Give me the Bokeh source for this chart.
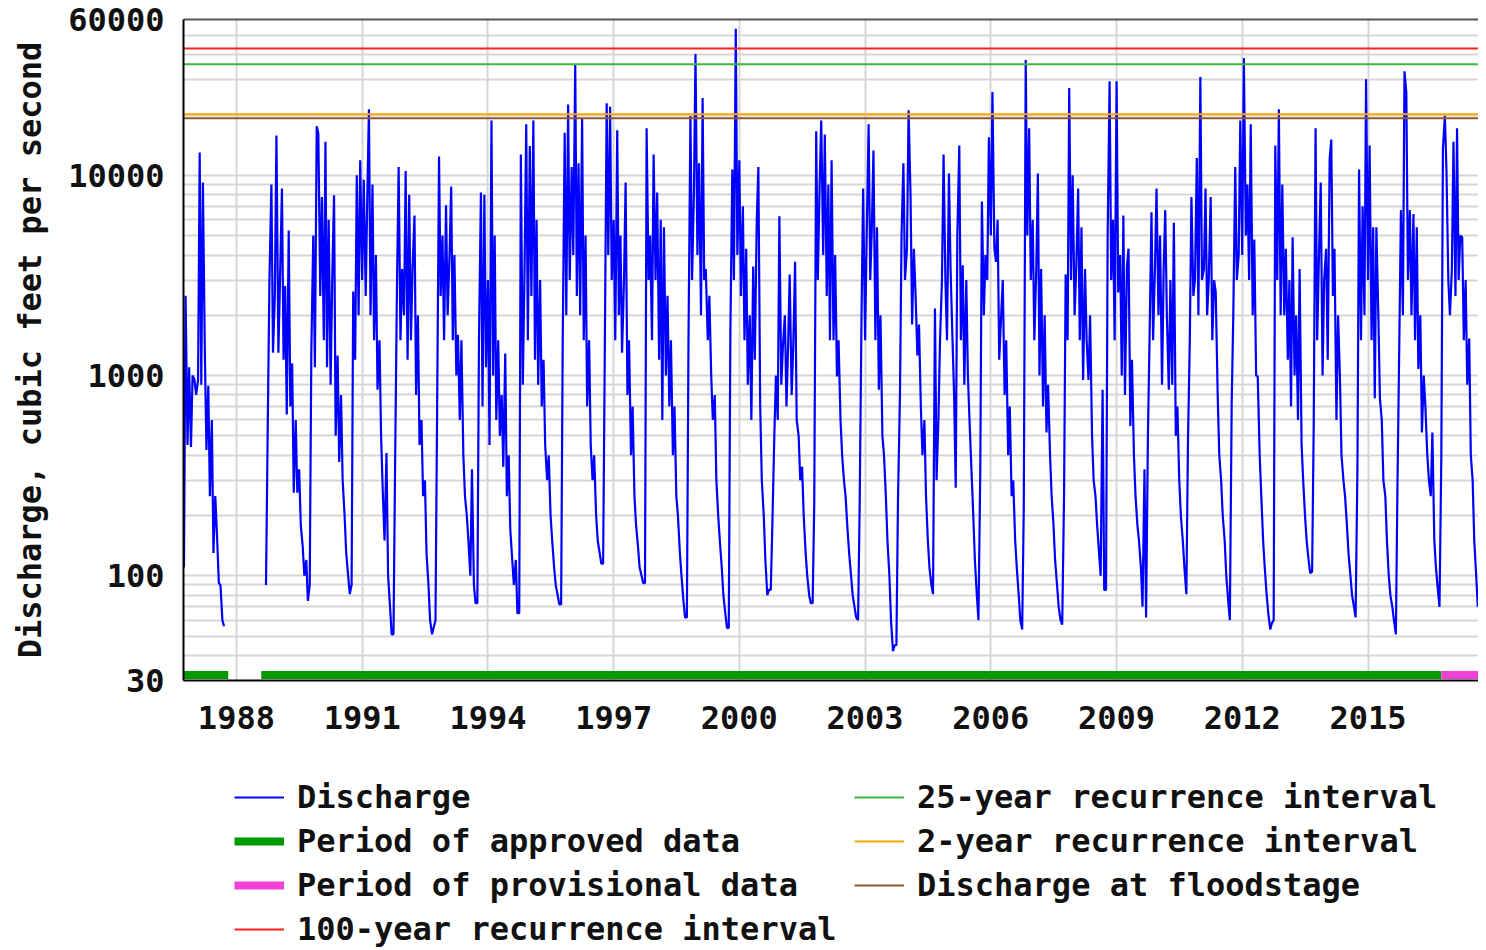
import datetime as dt
import numpy as np
import pandas as pd
from bokeh.plotting import figure
from bokeh.layouts import column
from bokeh.models import (FixedTicker, Legend, Range1d, NumeralTickFormatter,
                          CustomJSTickFormatter, LinearAxis, ColumnDataSource)
from bokeh.embed import file_html
from bokeh.resources import INLINE

NA = float("nan")

# ---- discharge at semi-monthly steps (cfs) ----
# each list = one water year (Oct 1 of previous year .. Sep 15), 1st & 15th of each month
wy1987 = [110, 2500, 450, 1100, 440, 1000, 950, 800, 950, 13000, 900, 9200, 1300, 425, 890, 250, 600, 130, 250, 165, 92, 90, 60, 56]
wy1988 = [NA, NA, NA, NA, NA, NA, NA, NA, NA, NA, NA, NA, NA, NA, NA, NA, NA, NA, NA, NA, NA, NA, NA, 90]
wy1989 = [620, 3000, 9000, 1300, 2500, 15800, 1300, 3000, 8600, 1200, 2800, 640, 5300, 700, 1150, 260, 600, 260, 340, 180, 140, 100, 120, 75]
wy1990 = [90, 1320, 5000, 1100, 17600, 16200, 2500, 7800, 1500, 14700, 1100, 6000, 900, 3000, 7950, 500, 1260, 370, 800, 300, 200, 130, 100, 81]
wy1991 = [90, 2630, 1200, 10000, 2000, 11900, 3000, 9500, 2500, 8000, 21400, 2000, 9000, 1500, 4000, 850, 1500, 500, 250, 150, 410, 100, 70, 51]
wy1992 = [51, 355, 3000, 11000, 1500, 3400, 2000, 10500, 1200, 8000, 1500, 3400, 6300, 800, 2000, 450, 600, 250, 300, 130, 90, 60, 51, 55]
wy1993 = [60, 640, 12400, 2500, 5000, 1500, 7080, 2000, 4100, 8800, 1500, 4000, 1000, 1600, 600, 1500, 400, 250, 200, 150, 100, 340, 90, 73]
wy1994 = [73, 1500, 8200, 700, 8000, 1100, 3000, 450, 18800, 1000, 5000, 600, 1500, 500, 800, 350, 1290, 250, 400, 170, 120, 90, 120, 65]
wy1995 = [65, 12700, 900, 3000, 18000, 1500, 14000, 2500, 18800, 1200, 6000, 900, 3000, 700, 1200, 450, 300, 400, 200, 150, 110, 90, 80, 72]
wy1996 = [72, 1500, 16300, 2000, 22600, 3000, 11000, 4000, 35900, 2500, 11500, 2000, 19300, 1500, 5000, 700, 1500, 450, 300, 400, 200, 150, 130, 115]
wy1997 = [115, 1200, 22900, 4000, 22000, 3000, 6000, 1500, 16800, 2000, 5000, 1300, 3000, 9200, 800, 1500, 400, 700, 250, 180, 140, 110, 100, 92]
wy1998 = [92, 17200, 3000, 5000, 1500, 12700, 3000, 8200, 1200, 6000, 600, 5500, 1000, 2500, 700, 1500, 400, 700, 250, 200, 130, 100, 75, 62]
wy1999 = [62, 1500, 19800, 3000, 8000, 40400, 4000, 11500, 2000, 24300, 3000, 3400, 1500, 2500, 1000, 600, 800, 300, 200, 150, 110, 80, 65, 55]
wy2000 = [55, 1630, 10700, 3000, 54000, 4000, 11900, 2500, 7000, 1500, 4300, 900, 2000, 600, 3500, 1200, 6000, 11000, 700, 300, 200, 120, 80, 85]
wy2001 = [85, 180, 500, 1000, 600, 6250, 900, 1400, 2000, 700, 1400, 3200, 800, 1400, 3700, 600, 500, 300, 350, 200, 130, 100, 80, 73]
wy2002 = [73, 230, 16600, 3000, 9000, 18800, 4000, 16000, 2500, 9000, 1500, 11900, 1500, 4000, 990, 1500, 600, 400, 300, 250, 170, 130, 100, 80]
wy2003 = [70, 62, 60, 230, 2000, 8600, 1500, 5000, 18000, 3000, 5500, 13300, 1500, 5500, 850, 2000, 500, 400, 250, 150, 100, 60, 42, 45]
wy2004 = [45, 243, 800, 5120, 11500, 3000, 4300, 21100, 8000, 1800, 4300, 2630, 1260, 1800, 700, 400, 600, 250, 150, 110, 90, 81, 2160, 300]
wy2005 = [600, 1500, 3000, 12700, 3000, 1500, 10200, 3400, 1500, 800, 275, 5000, 14100, 1500, 3550, 900, 3000, 1000, 560, 350, 200, 120, 80, 60]
wy2006 = [340, 7400, 2000, 4000, 3000, 15500, 5000, 26100, 4300, 3700, 6000, 1200, 2000, 3000, 800, 1500, 400, 700, 250, 300, 150, 110, 80, 60]
wy2007 = [54, 217, 37700, 5000, 17200, 3000, 6000, 1500, 3400, 10200, 1000, 3400, 700, 2000, 520, 900, 400, 250, 180, 120, 90, 70, 60, 57]
wy2008 = [250, 3200, 1500, 27300, 3000, 10000, 2000, 3400, 8600, 1500, 5500, 950, 3400, 1500, 950, 2000, 500, 300, 250, 180, 130, 100, 850, 85]
wy2009 = [85, 5000, 29500, 3000, 6000, 1500, 29500, 2600, 4000, 1000, 6300, 800, 3500, 4300, 560, 1200, 400, 250, 180, 150, 110, 70, 340, 62]
wy2010 = [500, 1500, 6540, 1500, 3400, 8600, 2000, 5000, 900, 3400, 6700, 2000, 850, 3000, 900, 5800, 500, 700, 300, 200, 150, 110, 81, 470]
wy2011 = [1500, 7800, 2500, 3000, 12200, 2000, 31000, 3000, 3400, 8600, 2000, 3000, 7800, 1500, 3000, 2600, 800, 400, 300, 200, 150, 100, 75, 60]
wy2012 = [730, 2000, 11000, 3000, 4000, 18800, 4000, 38500, 5000, 9000, 3000, 18000, 2000, 4780, 1000, 990, 400, 250, 150, 110, 80, 65, 54, 58]
wy2013 = [60, 14100, 3000, 21400, 2000, 9000, 2000, 4300, 1200, 3000, 700, 4900, 1000, 2000, 600, 3400, 455, 300, 200, 150, 120, 103, 105, 575]
wy2014 = [17200, 1500, 4300, 9200, 1000, 3000, 4300, 1200, 12200, 15100, 2500, 4300, 600, 2000, 1000, 400, 300, 250, 180, 130, 100, 80, 70, 62]
wy2015 = [350, 10700, 1500, 7000, 2000, 30200, 3000, 14100, 1500, 5500, 770, 5500, 2000, 770, 600, 300, 250, 150, 100, 80, 70, 60, 51, 290]
wy2016 = [1500, 6700, 2000, 33100, 26000, 3000, 6700, 2000, 6400, 1500, 5500, 1080, 2000, 520, 1000, 700, 400, 300, 250, 520, 150, 110, 85, 70]
wy2017 = [390, 13700, 19800, 10500, 3000, 2000, 3400, 14700, 2500, 17200, 3000, 5000, 4900, 1500, 3000, 900, 1530, 400, 300, 150, 100, 70, 80, 90]

water_years = [1987, 1988, 1989, 1990, 1991, 1992, 1993, 1994, 1995, 1996, 1997, 1998,
               1999, 2000, 2001, 2002, 2003, 2004, 2005, 2006, 2007, 2008, 2009, 2010,
               2011, 2012, 2013, 2014, 2015, 2016, 2017]
flows_by_year = [wy1987, wy1988, wy1989, wy1990, wy1991, wy1992, wy1993, wy1994, wy1995,
                 wy1996, wy1997, wy1998, wy1999, wy2000, wy2001, wy2002, wy2003, wy2004,
                 wy2005, wy2006, wy2007, wy2008, wy2009, wy2010, wy2011, wy2012, wy2013,
                 wy2014, wy2015, wy2016, wy2017]

# recurrence intervals / floodstage (cfs)
q100 = 43000
q25 = 35900
q2 = 20200
q_flood = 19300

# data-approval periods
approved_start = ["1986-09-01", "1988-08-05"]
approved_end = ["1987-10-22", "2016-10-01"]
provisional_start = ["2016-10-01"]
provisional_end = ["2017-12-31"]

tick_years = [1988, 1991, 1994, 1997, 2000, 2003, 2006, 2009, 2012, 2015]
y_label_ticks = [30, 100, 1000, 10000, 60000]

legend_col1 = ["Discharge", "Period of approved data", "Period of provisional data",
               "100-year recurrence interval"]
legend_col2 = ["25-year recurrence interval", "2-year recurrence interval",
               "Discharge at floodstage"]

# ---------------------------------------------------------------------------
dates, flows = [], []
for wy, vals in zip(water_years, flows_by_year):
    d = pd.date_range(f"{wy - 1}-10-01", periods=len(vals), freq="SMS")
    dates.extend(list(d))
    flows.extend(vals)
src = ColumnDataSource(dict(date=pd.to_datetime(dates), flow=np.array(flows, dtype=float)))

x_start = dt.datetime(1986, 9, 27)
x_end = dt.datetime(2017, 8, 21)

FONT = "DejaVu Sans Mono"
GRID = "#d6d6d6"
C_Q = "#0000ff"
C_APP = "#009900"
C_PROV = "#f040d8"
C_FS = "#8c5a2b"
C_2 = "#ffa500"
C_25 = "#3cb93c"
C_100 = "#ff2020"

p = figure(width=1478, height=740, x_axis_type="datetime", y_axis_type="log",
           x_range=Range1d(x_start, x_end), y_range=Range1d(30, 60000),
           output_backend="svg", toolbar_location=None,
           min_border_left=183, min_border_right=0, min_border_top=19,
           min_border_bottom=60)
p.outline_line_color = None
p.background_fill_color = "white"

minor = []
for dec in [10, 100, 1000, 10000]:
    for m in range(1, 10):
        v = m * dec
        if 30 < v < 60000 and v not in y_label_ticks:
            minor.append(v)
p.yaxis.ticker = FixedTicker(ticks=y_label_ticks, minor_ticks=minor)
p.yaxis.formatter = NumeralTickFormatter(format="0")
epoch = pd.Timestamp("1970-01-01")
tick_ms = [(pd.Timestamp(f"{y}-01-01") - epoch).total_seconds() * 1000 for y in tick_years]
p.xaxis.ticker = FixedTicker(ticks=tick_ms)
p.xaxis.formatter = CustomJSTickFormatter(code="return String(new Date(tick).getUTCFullYear());")

for ax in (p.xaxis, p.yaxis):
    ax.major_tick_line_color = None
    ax.minor_tick_line_color = None
    ax.axis_line_color = "black"
    ax.axis_line_width = 2
    ax.major_label_text_font = FONT
    ax.major_label_text_font_style = "bold"
    ax.major_label_text_font_size = "32px"
    ax.major_label_text_color = "#111111"
p.xaxis.major_label_standoff = 19
p.yaxis.major_label_standoff = 13
p.yaxis.axis_label = "Discharge, cubic feet per second"
p.yaxis.axis_label_text_font = FONT
p.yaxis.axis_label_text_font_style = "bold"
p.yaxis.axis_label_text_font_size = "32px"
p.yaxis.axis_label_text_color = "#111111"
p.yaxis.axis_label_standoff = 16

top = LinearAxis(ticker=FixedTicker(ticks=[]), major_label_text_font_size="0px",
                 axis_line_color="#555555", axis_line_width=2,
                 major_tick_line_color=None, minor_tick_line_color=None,
                 major_tick_out=0, minor_tick_out=0, major_label_standoff=0)
p.add_layout(top, "above")

p.xgrid.grid_line_color = GRID
p.xgrid.grid_line_width = 2
p.ygrid.grid_line_color = GRID
p.ygrid.grid_line_width = 2
p.ygrid.minor_grid_line_color = GRID
p.ygrid.minor_grid_line_width = 2

p.line("date", "flow", source=src, line_color=C_Q, line_width=2.2)

BAR_Y = 32
p.segment(x0=pd.to_datetime(approved_start), y0=[BAR_Y] * len(approved_start),
          x1=pd.to_datetime(approved_end), y1=[BAR_Y] * len(approved_end),
          line_color=C_APP, line_width=8, line_cap="butt")
p.segment(x0=pd.to_datetime(provisional_start), y0=[BAR_Y],
          x1=pd.to_datetime(provisional_end), y1=[BAR_Y],
          line_color=C_PROV, line_width=8, line_cap="butt")

p.line([x_start, x_end], [q_flood, q_flood], line_color=C_FS, line_width=2)
p.line([x_start, x_end], [q2, q2], line_color=C_2, line_width=2)
p.line([x_start, x_end], [q25, q25], line_color=C_25, line_width=2)
p.line([x_start, x_end], [q100, q100], line_color=C_100, line_width=2)

# ---- legend panel below the chart (frame aligned with the chart's frame) ----
lp = figure(width=1478, height=210, x_range=Range1d(0, 1), y_range=Range1d(0, 1),
            output_backend="svg", toolbar_location=None,
            min_border_left=0, min_border_right=0, min_border_top=0, min_border_bottom=0)
lp.axis.visible = False
lp.grid.visible = False
lp.outline_line_color = None

def key_glyph(color, width):
    # drawn outside the visible range: only its legend swatch shows
    return lp.line(x=[5, 6], y=[5, 6], line_color=color, line_width=width, line_cap="butt")

g_q = key_glyph(C_Q, 2)
g_app = key_glyph(C_APP, 8)
g_prov = key_glyph(C_PROV, 8)
g_100 = key_glyph(C_100, 2)
g_25 = key_glyph(C_25, 2)
g_2 = key_glyph(C_2, 2)
g_fs = key_glyph(C_FS, 2)


def make_legend(items, loc):
    return Legend(items=items, location=loc, orientation="vertical",
                  label_text_font=FONT, label_text_font_style="bold",
                  label_text_font_size="32px", label_text_color="#111111",
                  glyph_width=50, glyph_height=36, label_height=36, spacing=6,
                  label_standoff=13, padding=0, margin=0,
                  border_line_color=None, background_fill_alpha=0)


leg1 = make_legend(list(zip(legend_col1, [[g_q], [g_app], [g_prov], [g_100]])), (51, 2))
leg2 = make_legend(list(zip(legend_col2, [[g_25], [g_2], [g_fs]])), (671, 46))
lp.add_layout(leg1, "center")
lp.add_layout(leg2, "center")

layout = column(p, lp, spacing=0)
open("out.html", "w").write(file_html(layout, INLINE))
